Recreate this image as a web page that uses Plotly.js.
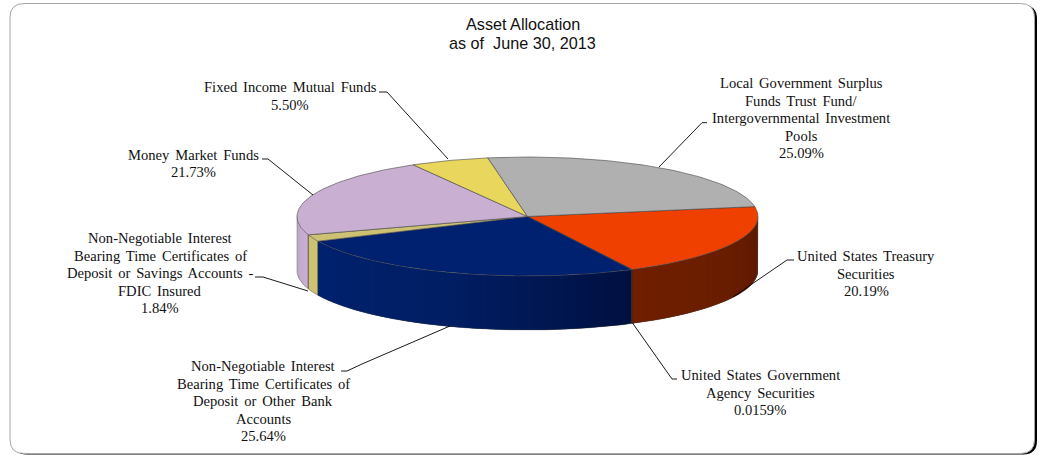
<!DOCTYPE html>
<html>
<head>
<meta charset="utf-8">
<script src="https://cdn.plot.ly/plotly-3.0.1.min.js"></script>
<style>
html, body { margin: 0; padding: 0; background: #fff; }
#chart { width: 1041px; height: 455px; }
</style>
</head>
<body>
<div id="chart"></div>
<script>
// Portfolio shares, clockwise from the right-hand edge of the disc
const sliceNames = [
  "United States Treasury Securities",
  "United States Government Agency Securities",
  "Non-Negotiable Interest Bearing Time Certificates of Deposit or Other Bank Accounts",
  "Non-Negotiable Interest Bearing Time Certificates of Deposit or Savings Accounts - FDIC Insured",
  "Money Market Funds",
  "Fixed Income Mutual Funds",
  "Local Government Surplus Funds Trust Fund/Intergovernmental Investment Pools"
];
const sliceValues = [20.19, 0.0159, 25.64, 1.84, 21.73, 5.50, 25.09];
const sliceValueText = ["20.19%", "0.0159%", "25.64%", "1.84%", "21.73%", "5.50%", "25.09%"];
const topColors = ["#f04000", "#d04000", "#00216f", "#cdc274", "#c9b0d2", "#e8d75c", "#b0b0b0"];

// Wall shading per slice: colour at the start angle, middle and end angle of the visible run
const wallStops = [
  ["#5c1900", "#691d00", "#701f00"],
  ["#701f00", "#701f00", "#701f00"],
  ["#001040", "#001e63", "#00216f"],
  ["#cdc274", "#cdc274", "#cdc274"],
  ["#c9b0d2", "#c4a9cc", "#c0a4c8"],
  ["#e8d75c", "#e8d75c", "#e8d75c"],
  ["#b0b0b0", "#b0b0b0", "#b0b0b0"]
];

// Label text blocks and where each is centred
const labelLines = [
  ["United States Treasury", "Securities"],
  ["United States Government", "Agency Securities"],
  ["Non-Negotiable Interest", "Bearing Time Certificates of", "Deposit or Other Bank", "Accounts"],
  ["Non-Negotiable Interest", "Bearing Time Certificates of", "Deposit or Savings Accounts -", "FDIC Insured"],
  ["Money Market Funds"],
  ["Fixed Income Mutual Funds"],
  ["Local Government Surplus", "Funds Trust Fund/", "Intergovernmental Investment", "Pools"]
];
const labelX = [866, 760, 263, 160, 193, 290, 801];
const labelY = [273.5, 392.5, 401, 273, 163.5, 96, 118];
const labelLineStep = 17.5;

// Leader line polylines, label end first
const leaderX = [[794, 787, 733], [677, 672, 632.5], [341, 347, 362, 450], [255, 263, 308], [262, 268, 313], [379, 387, 448], [707, 702, 659]];
const leaderY = [[260, 260, 297], [379, 379, 323], [371, 371, 364, 326], [277, 277, 291], [159, 159, 195], [92, 92, 159], [122.7, 122.7, 167]];

const titleLines = ["Asset Allocation", "as of \u00a0June 30, 2013"];
const titleY = [24, 43];

// Disc projection, in plot units (one unit is one pixel)
const cx = 527.5, cy = 216.5, rx = 230.5, ry = 59.5, depth = 54;
const startAngle = 9.6, stripDeg = 1.5;

const rad = d => d * Math.PI / 180;
const px = t => cx + rx * Math.cos(rad(t));
const py = (t, drop) => cy - ry * Math.sin(rad(t)) + (drop || 0);

function arcAngles(a, b) {
  const n = Math.max(1, Math.ceil(Math.abs(b - a) / 1));
  const out = [];
  for (let i = 0; i <= n; i++) out.push(a + (b - a) * i / n);
  return out;
}
function hexRgb(h) {
  return [1, 3, 5].map(i => parseInt(h.substr(i, 2), 16));
}
function shade(stops, f) {
  const seg = f < 0.5 ? 0 : 1, g = f < 0.5 ? f * 2 : (f - 0.5) * 2;
  const p = hexRgb(stops[seg]), q = hexRgb(stops[seg + 1]);
  return "rgb(" + p.map((v, i) => Math.round(v + (q[i] - v) * g)).join(",") + ")";
}

const total = sliceValues.reduce((s, v) => s + v, 0);
const bounds = [];
let running = startAngle;
sliceValues.forEach(v => {
  const next = running - v / total * 360;
  bounds.push([running, next]);
  running = next;
});

const traces = [];
const base = { type: "scatter", mode: "lines", hoverinfo: "skip", showlegend: false };

// Side walls: only the part of the rim facing the viewer, -180 to 0 degrees.
// Each strip reaches under the next one so no seams show between them.
bounds.forEach((b, i) => {
  const from = Math.min(b[0], 0), to = Math.max(b[1], -180);
  if (from <= to) return;
  const strips = Math.max(1, Math.ceil((from - to) / stripDeg));
  for (let s = 0; s < strips; s++) {
    const a1 = from + (to - from) * s / strips;
    const a2 = s === strips - 1 ? to : from + (to - from) * (s + 2) / strips;
    const ang = arcAngles(a1, a2);
    const xs = ang.map(px).concat(ang.slice().reverse().map(px));
    const ys = ang.map(t => py(t)).concat(ang.slice().reverse().map(t => py(t, depth)));
    traces.push(Object.assign({}, base, {
      x: xs, y: ys, fill: "toself", fillcolor: shade(wallStops[i], (s + 0.5) / strips),
      line: { width: 0 }
    }));
  }
});

// Vertical seams between wall sections and the rim's lower outline
bounds.forEach(b => {
  const t = b[1];
  if (t < 0 && t > -180) {
    traces.push(Object.assign({}, base, {
      x: [px(t), px(t)], y: [py(t), py(t, depth)],
      line: { color: "#2a2a2a", width: 0.7 }
    }));
  }
});
const rimAngles = arcAngles(0, -180);
traces.push(Object.assign({}, base, {
  x: [px(0)].concat(rimAngles.map(px), [px(-180)]),
  y: [py(0)].concat(rimAngles.map(t => py(t, depth)), [py(-180)]),
  line: { color: "rgba(60,60,60,0.6)", width: 0.6 }
}));

// Top face wedges
bounds.forEach((b, i) => {
  const ang = arcAngles(b[0], b[1]);
  traces.push(Object.assign({}, base, {
    name: sliceNames[i],
    x: [cx].concat(ang.map(px), [cx]),
    y: [cy].concat(ang.map(t => py(t)), [cy]),
    fill: "toself", fillcolor: topColors[i],
    line: { color: "#444", width: 0.6 }
  }));
});

// Leader lines
leaderX.forEach((xs, i) => {
  traces.push(Object.assign({}, base, {
    x: xs, y: leaderY[i], line: { color: "#000", width: 0.9 }
  }));
});

// Labels are placed line by line to hold the tight leading
const serif = { family: "'Liberation Serif', serif", size: 14.6, color: "#111" };
const annotations = [];
labelLines.forEach((lines, i) => {
  const all = lines.concat(sliceValueText[i]);
  all.forEach((line, k) => annotations.push({
    xref: "x", yref: "y", x: labelX[i], y: labelY[i] + (k - (all.length - 1) / 2) * labelLineStep,
    xanchor: "center", yanchor: "middle", showarrow: false, borderpad: 0, align: "center",
    text: `<span style="word-spacing:2.2px">${line}</span>`, font: serif
  }));
});
titleLines.forEach((line, i) => annotations.push({
  xref: "x", yref: "y", x: 522.5, y: titleY[i], xanchor: "center", yanchor: "middle",
  showarrow: false, borderpad: 0, align: "center", text: line,
  font: { family: "'Liberation Sans', sans-serif", size: 16.2, color: "#111" }
}));

function rounded(x0, y0, x1, y1, r) {
  return `M${x0 + r},${y0} L${x1 - r},${y0} Q${x1},${y0} ${x1},${y0 + r} L${x1},${y1 - r} Q${x1},${y1} ${x1 - r},${y1} L${x0 + r},${y1} Q${x0},${y1} ${x0},${y1 - r} L${x0},${y0 + r} Q${x0},${y0} ${x0 + r},${y0} Z`;
}

const layout = {
  width: 1041, height: 455,
  margin: { l: 0, r: 0, t: 0, b: 0 },
  paper_bgcolor: "#fff", plot_bgcolor: "#fff",
  xaxis: { range: [0, 1041], visible: false, fixedrange: true },
  yaxis: { range: [455, 0], visible: false, fixedrange: true },
  annotations: annotations,
  shapes: [
    { type: "path", xref: "x", yref: "y", layer: "below", path: rounded(13, 5, 1037, 454.5, 14), fillcolor: "#000", line: { width: 0 } },
    { type: "path", xref: "x", yref: "y", layer: "below", path: rounded(10, 3.5, 1034.5, 453.5, 14), fillcolor: "#fff", line: { color: "#a6a6a6", width: 1 } }
  ]
};

Plotly.newPlot("chart", traces, layout, { displayModeBar: false, staticPlot: true });
</script>
</body>
</html>
